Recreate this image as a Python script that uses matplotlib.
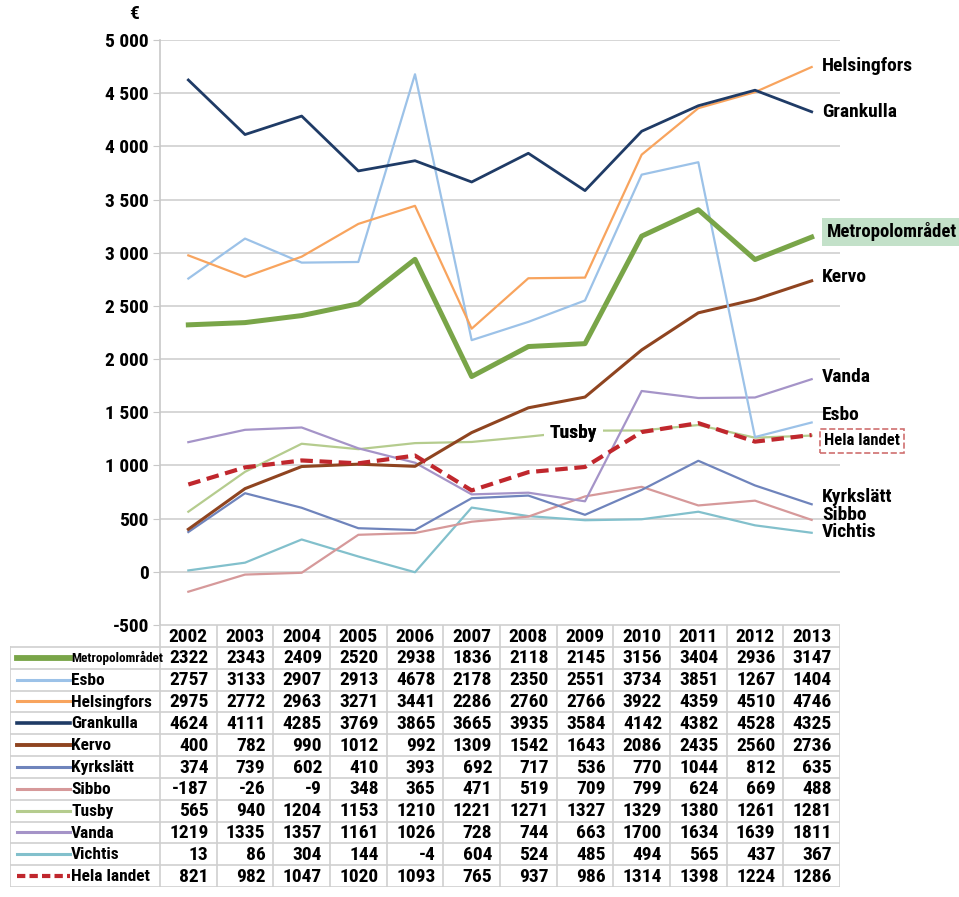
import matplotlib
matplotlib.use("Agg")
import matplotlib.pyplot as plt
from matplotlib.lines import Line2D

plt.rcParams['font.family'] = ['Roboto Condensed', 'Liberation Sans Narrow', 'DejaVu Sans']
plt.rcParams['font.weight'] = 'bold'

years = [2002, 2003, 2004, 2005, 2006, 2007, 2008, 2009, 2010, 2011, 2012, 2013]

names = ["Metropolområdet", "Esbo", "Helsingfors", "Grankulla", "Kervo",
         "Kyrkslätt", "Sibbo", "Tusby", "Vanda", "Vichtis", "Hela landet"]

metropol = [2322, 2343, 2409, 2520, 2938, 1836, 2118, 2145, 3156, 3404, 2936, 3147]
esbo = [2757, 3133, 2907, 2913, 4678, 2178, 2350, 2551, 3734, 3851, 1267, 1404]
helsingfors = [2975, 2772, 2963, 3271, 3441, 2286, 2760, 2766, 3922, 4359, 4510, 4746]
grankulla = [4624, 4111, 4285, 3769, 3865, 3665, 3935, 3584, 4142, 4382, 4528, 4325]
kervo = [400, 782, 990, 1012, 992, 1309, 1542, 1643, 2086, 2435, 2560, 2736]
kyrkslatt = [374, 739, 602, 410, 393, 692, 717, 536, 770, 1044, 812, 635]
sibbo = [-187, -26, -9, 348, 365, 471, 519, 709, 799, 624, 669, 488]
tusby = [565, 940, 1204, 1153, 1210, 1221, 1271, 1327, 1329, 1380, 1261, 1281]
vanda = [1219, 1335, 1357, 1161, 1026, 728, 744, 663, 1700, 1634, 1639, 1811]
vichtis = [13, 86, 304, 144, -4, 604, 524, 485, 494, 565, 437, 367]
hela = [821, 982, 1047, 1020, 1093, 765, 937, 986, 1314, 1398, 1224, 1286]

series = [metropol, esbo, helsingfors, grankulla, kervo, kyrkslatt,
          sibbo, tusby, vanda, vichtis, hela]

colors = ["#79a548", "#9cc2e8", "#f8a45e", "#1f3b66", "#8f4420", "#6f84bc",
          "#d6999a", "#b5cc8e", "#a594c8", "#82c0cc", "#c0272d"]
widths = [3.6, 1.6, 1.6, 2.0, 2.2, 1.6, 1.6, 1.6, 1.6, 1.6, 3.0]

yticks = [-500, 0, 500, 1000, 1500, 2000, 2500, 3000, 3500, 4000, 4500, 5000]

# end labels: (name, x, y) in data units
end_labels = [("Helsingfors", 11.18, 4756), ("Grankulla", 11.18, 4323),
              ("Kervo", 11.18, 2772), ("Vanda", 11.18, 1832),
              ("Esbo", 11.18, 1474), ("Kyrkslätt", 11.18, 703),
              ("Sibbo", 11.18, 534), ("Vichtis", 11.18, 374)]

W, H = 959, 897
fig = plt.figure(figsize=(W / 100, H / 100), dpi=100)

ax = fig.add_axes([160 / W, 1 - 625 / H, 680 / W, 585 / H])
x = list(range(len(years)))
ax.set_xlim(-0.5, len(years) - 0.5)
ax.set_ylim(-500, 5000)
ax.set_yticks(yticks)
ax.set_yticklabels([f"{v:,}".replace(",", " ") for v in yticks], fontsize=14)
ax.set_xticks([])
ax.grid(axis="y", color="#d0d0d0", linewidth=1.2)
ax.set_axisbelow(True)
for s in ["top", "right", "bottom"]:
    ax.spines[s].set_visible(False)
ax.spines["left"].set_color("#c8c8c8")
ax.spines["left"].set_linewidth(1.2)
ax.tick_params(axis="y", length=5, color="#c8c8c8", pad=3)

# draw order so the thick lines sit on top
order = [9, 6, 5, 7, 8, 4, 1, 2, 0, 3, 10]
for i in order:
    if i == 10:
        ax.plot(x, series[i], color=colors[i], lw=widths[i], ls=(0, (3, 1.6)), zorder=4)
    else:
        ax.plot(x, series[i], color=colors[i], lw=widths[i], zorder=3)

ax.text(-0.95, 5240, "€", fontsize=14, ha="center", va="center", clip_on=False)

for name, lx, ly in end_labels:
    ax.text(lx, ly, name, fontsize=14, ha="left", va="center", clip_on=False)

ax.text(11.27, 3195, "Metropolområdet", fontsize=13.5, ha="left", va="center",
        clip_on=False, bbox=dict(boxstyle="square,pad=0.25", fc="#c3e1c9", ec="none"))
ax.text(11.22, 1230, "Hela landet", fontsize=12, ha="left", va="center",
        clip_on=False, bbox=dict(boxstyle="square,pad=0.25", fc="white",
                                 ec="#d07070", ls="--", lw=1.2))
# Tusby label sits on a white patch that breaks its line
ax.text(6.8, 1305, "Tusby", fontsize=14, ha="center", va="center", zorder=3.5,
        bbox=dict(boxstyle="square,pad=0.3", fc="white", ec="none"))
ax.text(6.8, 1305, "Tusby", fontsize=14, ha="center", va="center", zorder=5)

# data table below the plot
tab = fig.add_axes([10 / W, 1 - 887 / H, 830 / W, 262 / H])
ncol = len(years)
first_w = 150 / 56.67
tab.set_xlim(-first_w, ncol)
nrow = len(names) + 1
tab.set_ylim(nrow, 0)
tab.axis("off")
grid_c = "#cfcfcf"
for j in range(ncol + 1):
    tab.plot([j, j], [0, nrow], color=grid_c, lw=1.2)
tab.plot([-first_w, -first_w], [1, nrow], color=grid_c, lw=1.2)
for r in range(1, nrow + 1):
    tab.plot([-first_w, ncol], [r, r], color=grid_c, lw=1.2)
tab.plot([0, ncol], [0, 0], color=grid_c, lw=1.2)

for j, yr in enumerate(years):
    tab.text(j + 0.5, 0.55, str(yr), fontsize=14, ha="center", va="center")

for r, (name, vals) in enumerate(zip(names, series), start=1):
    yc = r + 0.5
    if r - 1 == 10:
        tab.add_line(Line2D([-first_w + 0.12, -first_w + 1.05], [yc, yc],
                            color=colors[r - 1], lw=3, ls=(0, (2, 1))))
    else:
        tab.add_line(Line2D([-first_w + 0.12, -first_w + 1.05], [yc, yc],
                            color=colors[r - 1], lw=widths[r - 1] + 0.6))
    tab.text(-first_w + 1.08, yc + 0.03, name,
             fontsize=9.5 if name == "Metropolområdet" else 12.5,
             ha="left", va="center")
    for j, v in enumerate(vals):
        tab.text(j + 0.86, yc + 0.03, str(v), fontsize=14, ha="right", va="center")

fig.savefig("out.png", dpi=100)
